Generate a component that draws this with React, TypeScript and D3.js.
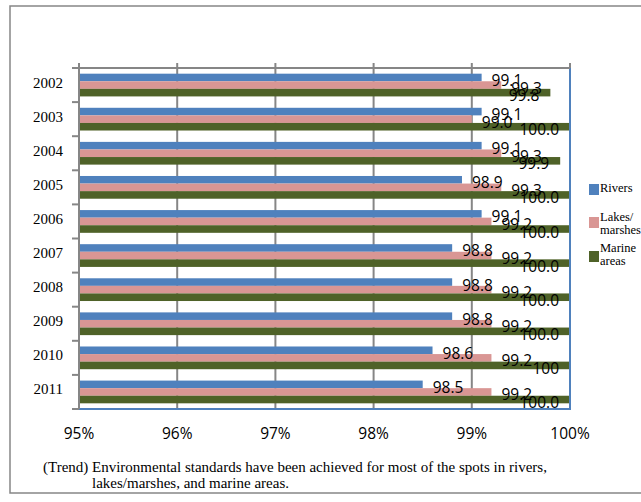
import React from "react";
import * as d3 from "d3";

const years = ["2002", "2003", "2004", "2005", "2006", "2007", "2008", "2009", "2010", "2011"];
const rivers = [99.1, 99.1, 99.1, 98.9, 99.1, 98.8, 98.8, 98.8, 98.6, 98.5];
const lakes = [99.3, 99.0, 99.3, 99.3, 99.2, 99.2, 99.2, 99.2, 99.2, 99.2];
const marine = [99.8, 100.0, 99.9, 100.0, 100.0, 100.0, 100.0, 100.0, 100, 100.0];
const marineLabels = ["99.8", "100.0", "99.9", "100.0", "100.0", "100.0", "100.0", "100.0", "100", "100.0"];
const xTicks = [95, 96, 97, 98, 99, 100];
const seriesNames = ["Rivers", "Lakes/marshes", "Marine areas"];
const legendLines = [["Rivers"], ["Lakes/", "marshes"], ["Marine", "areas"]];
const colors = ["#4F81BD", "#D99694", "#4F6228"];
const noteLines = [
  "(Trend) Environmental standards have been achieved for most of the spots in rivers,",
  "lakes/marshes, and marine areas.",
];

const SERIF = "'Liberation Serif', 'Times New Roman', serif";
const SANS = "'Open Sans', 'Liberation Sans', sans-serif";

export default function App() {
  const W = 641, H = 502;
  const left = 79, right = 570, top = 68, bottom = 409;
  const x = d3.scaleLinear().domain([95, 100]).range([left, right]);
  const y = d3.scaleBand<string>().domain(years).range([top, bottom]).padding(0);
  const yInner = d3.scaleBand<string>().domain(seriesNames).range([0, y.bandwidth()]).paddingInner(0).paddingOuter(0.75);
  const data = [rivers, lakes, marine];
  const labels = [
    rivers.map((v) => v.toFixed(1)),
    lakes.map((v) => v.toFixed(1)),
    marineLabels,
  ];
  const gray = "#868686";
  const boundaries = d3.range(years.length + 1).map((i) => top + i * y.step());

  return (
    <svg width={W} height={H} style={{ position: "absolute", left: 0, top: 0 }}>
      <rect x={0} y={0} width={W} height={H} fill="#fff" />
      <rect x={10} y={6} width={700} height={487} fill="#fff" stroke={gray} strokeWidth={1.5} />
      {/* gridlines */}
      {xTicks.slice(1, -1).map((t) => (
        <line key={"g" + t} x1={x(t)} x2={x(t)} y1={top} y2={bottom} stroke={gray} strokeWidth={2} />
      ))}
      {/* bars */}
      {data.map((arr, si) =>
        arr.map((v, i) => (
          <rect
            key={"b" + si + "-" + i}
            x={x(95)}
            y={(y(years[i]) as number) + (yInner(seriesNames[si]) as number)}
            width={x(v) - x(95)}
            height={yInner.bandwidth()}
            fill={colors[si]}
          />
        ))
      )}
      {/* plot border right & bottom */}
      <line x1={right} x2={right} y1={top} y2={bottom} stroke="#4F81BD" strokeWidth={2} />
      <line x1={left} x2={right + 1} y1={bottom} y2={bottom} stroke="#4F81BD" strokeWidth={2} />
      {/* top axis */}
      <line x1={left - 7} x2={right} y1={top} y2={top} stroke={gray} strokeWidth={2} />
      {xTicks.map((t) => (
        <line key={"t" + t} x1={x(t)} x2={x(t)} y1={top - 5} y2={top} stroke={gray} strokeWidth={2} />
      ))}
      {/* left axis */}
      <line x1={left} x2={left} y1={top - 5} y2={bottom} stroke={gray} strokeWidth={2} />
      {boundaries.map((b, i) => (
        <line key={"l" + i} x1={left - 7} x2={left} y1={b} y2={b} stroke={gray} strokeWidth={2} />
      ))}
      {/* year labels */}
      {years.map((yr) => (
        <text
          key={"y" + yr}
          x={63}
          y={(y(yr) as number) + y.bandwidth() / 2 - 2.5}
          textAnchor="end"
          dominantBaseline="central"
          fontFamily={SERIF}
          fontSize={15}
          fill="#000"
        >
          {yr}
        </text>
      ))}
      {/* x tick labels */}
      {xTicks.map((t) => (
        <text
          key={"xl" + t}
          x={x(t)}
          y={433}
          textAnchor="middle"
          dominantBaseline="central"
          fontFamily={SANS}
          fontSize={15.5}
          fill="#000"
        >
          {t + "%"}
        </text>
      ))}
      {/* data labels */}
      {data.map((arr, si) =>
        arr.map((v, i) => {
          const end = x(v);
          const txt = labels[si][i];
          const estW = txt.length * 8;
          const inside = end + 10 + estW > right;
          const cy = (y(years[i]) as number) + (yInner(seriesNames[si]) as number) + yInner.bandwidth() / 2 + 2.5;
          return (
            <text
              key={"d" + si + "-" + i}
              x={inside ? end - 11 : end + 10}
              y={cy}
              textAnchor={inside ? "end" : "start"}
              dominantBaseline="central"
              fontFamily={SANS}
              fontSize={15.5}
              fill="#000"
            >
              {txt}
            </text>
          );
        })
      )}
      {/* legend */}
      {legendLines.map((lines, i) => {
        const sqY = [184, 217, 251][i];
        const baseY = [192, 221, 252][i];
        return (
          <g key={"lg" + i}>
            <rect x={589} y={sqY} width={10} height={11} fill={colors[i]} />
            {lines.map((ln, j) => (
              <text key={j} x={600} y={baseY + j * 13} fontFamily={SERIF} fontSize={12.5} fill="#000">
                {ln}
              </text>
            ))}
          </g>
        );
      })}
      {/* note */}
      <text x={43} y={472} fontFamily={SERIF} fontSize={15} fill="#000">
        {noteLines[0]}
      </text>
      <text x={92} y={488} fontFamily={SERIF} fontSize={15} fill="#000">
        {noteLines[1]}
      </text>
    </svg>
  );
}
